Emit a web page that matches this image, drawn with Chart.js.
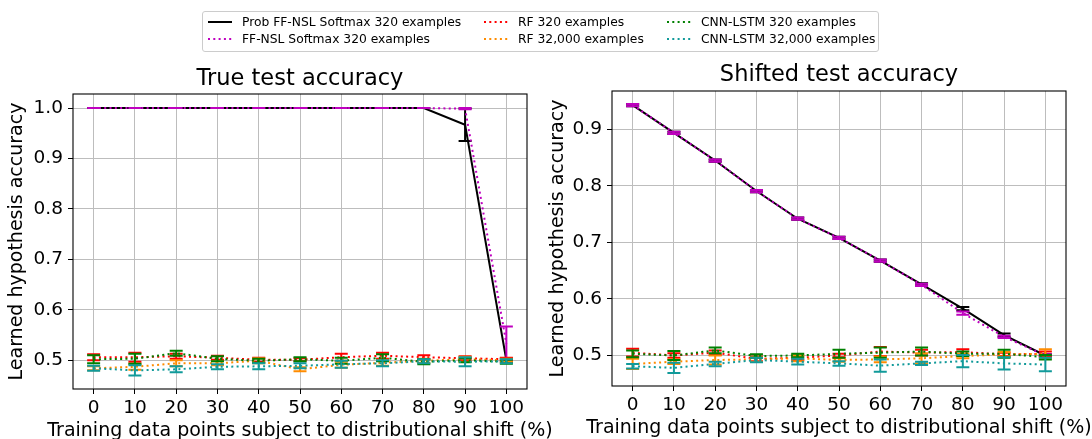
<!DOCTYPE html>
<html>
<head>
<meta charset="utf-8">
<script src="https://cdn.jsdelivr.net/npm/chart.js@4.4.1/dist/chart.umd.min.js"></script>
<style>
  html, body { margin: 0; padding: 0; background: #fff; overflow: hidden; }
  body { width: 1092px; height: 439px; position: relative; font-family: "DejaVu Sans", sans-serif; }
  canvas { position: absolute; top: 0; }
  #trueChart { left: 0; }
  #shiftChart { left: 540px; }
  .legend-box { position: absolute; left: 202px; top: 11px; width: 675px; height: 39px;
    border: 1px solid #cccccc; border-radius: 3px; background: rgba(255,255,255,0.8); }
  .item { position: absolute; height: 16px; display: flex; align-items: center;
    white-space: nowrap; font-size: 12.3px; color: #000; }
  .item svg { margin-right: 10px; }
</style>
</head>
<body>
<canvas id="trueChart" width="560" height="450"></canvas>
<canvas id="shiftChart" width="552" height="450"></canvas>
<div class="legend-box"></div>
<div id="legend"></div>
<script>
// x values and ticks
const shiftPct = [0, 10, 20, 30, 40, 50, 60, 70, 80, 90, 100];
const trueYTicks = [0.5, 0.6, 0.7, 0.8, 0.9, 1.0];
const shiftYTicks = [0.5, 0.6, 0.7, 0.8, 0.9];

const seriesLabels = [
  'Prob FF-NSL Softmax 320 examples',
  'FF-NSL Softmax 320 examples',
  'RF 320 examples',
  'RF 32,000 examples',
  'CNN-LSTM 320 examples',
  'CNN-LSTM 32,000 examples'
];

// True test accuracy (mean, std)
const trueProb     = [1, 1, 1, 1, 1, 1, 1, 1, 1, 0.967, 0.500];
const trueProbErr  = [0, 0, 0, 0, 0, 0, 0, 0, 0, 0.032, 0.004];
const trueFF       = [1, 1, 1, 1, 1, 1, 1, 1, 1, 0.999, 0.533];
const trueFFErr    = [0, 0, 0, 0, 0, 0, 0, 0, 0, 0.001, 0.034];
const trueRF320    = [0.506, 0.506, 0.508, 0.505, 0.501, 0.501, 0.506, 0.509, 0.506, 0.504, 0.502];
const trueRF320Err = [0.006, 0.009, 0.005, 0.004, 0.004, 0.003, 0.007, 0.006, 0.004, 0.004, 0.003];
const trueRF32k    = [0.484, 0.487, 0.494, 0.494, 0.499, 0.482, 0.491, 0.495, 0.499, 0.502, 0.500];
const trueRF32kErr = [0.004, 0.006, 0.006, 0.004, 0.005, 0.004, 0.006, 0.006, 0.004, 0.005, 0.003];
const trueCNN320   = [0.502, 0.503, 0.514, 0.503, 0.499, 0.502, 0.499, 0.505, 0.497, 0.500, 0.497];
const trueCNN320Err= [0.008, 0.010, 0.005, 0.005, 0.004, 0.004, 0.006, 0.007, 0.005, 0.004, 0.004];
const trueCNN32k   = [0.484, 0.480, 0.482, 0.487, 0.488, 0.489, 0.492, 0.494, 0.498, 0.497, 0.498];
const trueCNN32kErr= [0.005, 0.010, 0.006, 0.005, 0.006, 0.005, 0.007, 0.006, 0.004, 0.009, 0.004];

// Shifted test accuracy (mean, std)
const shiftProb     = [0.943, 0.894, 0.845, 0.791, 0.742, 0.708, 0.668, 0.626, 0.583, 0.536, 0.500];
const shiftProbErr  = [0.002, 0.002, 0.002, 0.002, 0.002, 0.002, 0.002, 0.002, 0.003, 0.003, 0.002];
const shiftFF       = [0.943, 0.894, 0.845, 0.791, 0.742, 0.708, 0.668, 0.625, 0.575, 0.533, 0.500];
const shiftFFErr    = [0.002, 0.002, 0.002, 0.002, 0.002, 0.002, 0.002, 0.002, 0.003, 0.002, 0.002];
const shiftRF320    = [0.505, 0.500, 0.505, 0.494, 0.496, 0.500, 0.507, 0.505, 0.506, 0.502, 0.503];
const shiftRF320Err = [0.007, 0.004, 0.004, 0.004, 0.004, 0.003, 0.008, 0.005, 0.005, 0.003, 0.004];
const shiftRF32k    = [0.485, 0.489, 0.492, 0.493, 0.495, 0.492, 0.493, 0.495, 0.499, 0.502, 0.503];
const shiftRF32kErr = [0.009, 0.004, 0.008, 0.004, 0.005, 0.003, 0.005, 0.009, 0.004, 0.004, 0.008];
const shiftCNN320   = [0.503, 0.500, 0.509, 0.499, 0.500, 0.503, 0.505, 0.507, 0.503, 0.503, 0.497];
const shiftCNN320Err= [0.006, 0.008, 0.005, 0.003, 0.003, 0.007, 0.009, 0.007, 0.004, 0.007, 0.004];
const shiftCNN32k   = [0.481, 0.478, 0.485, 0.492, 0.489, 0.486, 0.482, 0.486, 0.490, 0.486, 0.484];
const shiftCNN32kErr= [0.004, 0.009, 0.004, 0.004, 0.005, 0.004, 0.011, 0.003, 0.011, 0.011, 0.012];

const X_LABEL = 'Training data points subject to distributional shift (%)';
const Y_LABEL = 'Learned hypothesis accuracy';

const DOT = [2, 3.3];
const looks = [
  { color: '#000000', dash: [] },
  { color: '#bf00bf', dash: DOT },
  { color: '#ff0000', dash: DOT },
  { color: '#ff8c00', dash: DOT },
  { color: '#008000', dash: DOT },
  { color: '#119a9a', dash: DOT }
];

Chart.defaults.font.family = '"DejaVu Sans", sans-serif';
Chart.defaults.color = '#000';

// matplotlib-style error bars, drawn right after each line
const errorBars = {
  id: 'errorBars',
  afterDatasetDraw(chart, args) {
    const ds = chart.data.datasets[args.index];
    if (!ds.errors) return;
    const { ctx, chartArea: a, scales: { x, y } } = chart;
    ctx.save();
    ctx.beginPath();
    ctx.rect(a.left, a.top, a.width, a.height);
    ctx.clip();
    ctx.strokeStyle = ds.borderColor;
    ctx.lineWidth = 2;
    ctx.setLineDash([]);
    ds.data.forEach((p, i) => {
      const e = ds.errors[i];
      const px = x.getPixelForValue(p.x);
      const hi = y.getPixelForValue(p.y + e);
      const lo = y.getPixelForValue(p.y - e);
      ctx.beginPath();
      ctx.moveTo(px, hi); ctx.lineTo(px, lo);
      ctx.moveTo(px - 6.5, hi); ctx.lineTo(px + 6.5, hi);
      ctx.moveTo(px - 6.5, lo); ctx.lineTo(px + 6.5, lo);
      ctx.stroke();
    });
    ctx.restore();
  }
};

// axes frame on all four sides
const frame = {
  id: 'frame',
  afterDatasetsDraw(chart) {
    const { ctx, chartArea: a } = chart;
    ctx.save();
    ctx.strokeStyle = '#000';
    ctx.lineWidth = 1.1;
    ctx.strokeRect(a.left, a.top, a.width, a.height);
    ctx.restore();
  }
};

// x axis label that may run wider than the plot area (Chart.js squeezes scale titles)
const xLabel = {
  id: 'xLabel',
  afterDraw(chart, args, opts) {
    const { ctx, chartArea: a } = chart;
    ctx.save();
    ctx.font = opts.size + 'px "DejaVu Sans", sans-serif';
    ctx.fillStyle = '#000';
    ctx.textAlign = 'center';
    ctx.textBaseline = 'middle';
    ctx.fillText(opts.text, (a.left + a.right) / 2, opts.y);
    ctx.restore();
  }
};

function buildDatasets(vals, errs) {
  return vals.map((v, k) => ({
    label: seriesLabels[k],
    data: shiftPct.map((x, i) => ({ x: x, y: v[i] })),
    errors: errs[k],
    xAxisID: 'x',
    yAxisID: 'y',
    borderColor: looks[k].color,
    borderDash: looks[k].dash,
    borderCapStyle: 'butt',
    borderWidth: 2,
    pointRadius: 0,
    tension: 0,
    fill: false,
    order: vals.length - 1 - k
  }));
}

function makeChart(id, vals, errs, o) {
  return new Chart(document.getElementById(id), {
    type: 'line',
    data: { datasets: buildDatasets(vals, errs) },
    plugins: [errorBars, frame, xLabel],
    options: {
      responsive: false,
      animation: false,
      layout: { padding: { left: 0, right: o.padRight, top: 0, bottom: 0 } },
      plugins: {
        legend: { display: false },
        tooltip: { enabled: false },
        title: { display: false },
        xLabel: { text: X_LABEL, size: 19, y: o.xLabelY }
      },
      scales: {
        x: {
          type: 'linear',
          min: -5,
          max: 105,
          afterBuildTicks: s => { s.ticks = shiftPct.map(v => ({ value: v })); },
          afterFit: s => { s.height = o.xAxisH; },
          grid: { color: '#bdbdbd', lineWidth: 1, tickLength: 5, tickColor: '#000' },
          border: { display: false },
          ticks: { font: { size: 18.5 }, padding: 3, maxRotation: 0, autoSkip: false,
                   callback: v => String(v) },
          title: { display: false }
        },
        y: {
          min: o.yMin,
          max: o.yMax,
          afterBuildTicks: s => { s.ticks = o.yTicks.map(v => ({ value: v })); },
          afterFit: s => { s.width = o.yAxisW; },
          grid: { color: '#bdbdbd', lineWidth: 1, tickLength: 5, tickColor: '#000' },
          border: { display: false },
          ticks: { font: { size: 18.5 }, padding: 5, callback: v => v.toFixed(1) },
          title: { display: true, text: Y_LABEL,
                   font: { size: 19 }, padding: { top: o.yTitlePad, bottom: 0 } }
        },
        // empty top axis carrying the subplot title, centred over the plot area
        top: {
          type: 'linear',
          position: 'top',
          min: -5,
          max: 105,
          afterFit: s => { s.height = o.areaTop; },
          grid: { display: false, drawTicks: false },
          border: { display: false },
          ticks: { display: false },
          title: { display: true, text: o.title, font: { size: 22.5 },
                   padding: { top: o.titlePad, bottom: 0 } }
        }
      }
    }
  });
}

makeChart('trueChart',
  [trueProb, trueFF, trueRF320, trueRF32k, trueCNN320, trueCNN32k],
  [trueProbErr, trueFFErr, trueRF320Err, trueRF32kErr, trueCNN320Err, trueCNN32kErr],
  { title: 'True test accuracy', yMin: 0.443, yMax: 1.028, yTicks: trueYTicks,
    padRight: 33, yAxisW: 73, xAxisH: 61, areaTop: 94, titlePad: 65.5,
    xLabelY: 431, yTitlePad: 5.6 });

makeChart('shiftChart',
  [shiftProb, shiftFF, shiftRF320, shiftRF32k, shiftCNN320, shiftCNN32k],
  [shiftProbErr, shiftFFErr, shiftRF320Err, shiftRF32kErr, shiftCNN320Err, shiftCNN32kErr],
  { title: 'Shifted test accuracy', yMin: 0.446, yMax: 0.968, yTicks: shiftYTicks,
    padRight: 26, yAxisW: 72, xAxisH: 64, areaTop: 91, titlePad: 61.5,
    xLabelY: 428, yTitlePad: 6.6 });

// legend: three columns, two rows (column-major like matplotlib)
const legendCols = [208, 484, 667];
const legendRows = [21.7, 39.3];
const legendEl = document.getElementById('legend');
seriesLabels.forEach((name, k) => {
  const col = Math.floor(k / 2), row = k % 2;
  const item = document.createElement('div');
  item.className = 'item';
  item.style.left = legendCols[col] + 'px';
  item.style.top = (legendRows[row] - 8) + 'px';
  const dash = looks[k].dash.length ? looks[k].dash.join(' ') : 'none';
  item.innerHTML = '<svg width="24" height="16"><line x1="0" y1="8" x2="24" y2="8" stroke="' +
    looks[k].color + '" stroke-width="2" stroke-dasharray="' + dash + '"/></svg>';
  const span = document.createElement('span');
  span.textContent = name;
  item.appendChild(span);
  legendEl.appendChild(item);
});
</script>
</body>
</html>
